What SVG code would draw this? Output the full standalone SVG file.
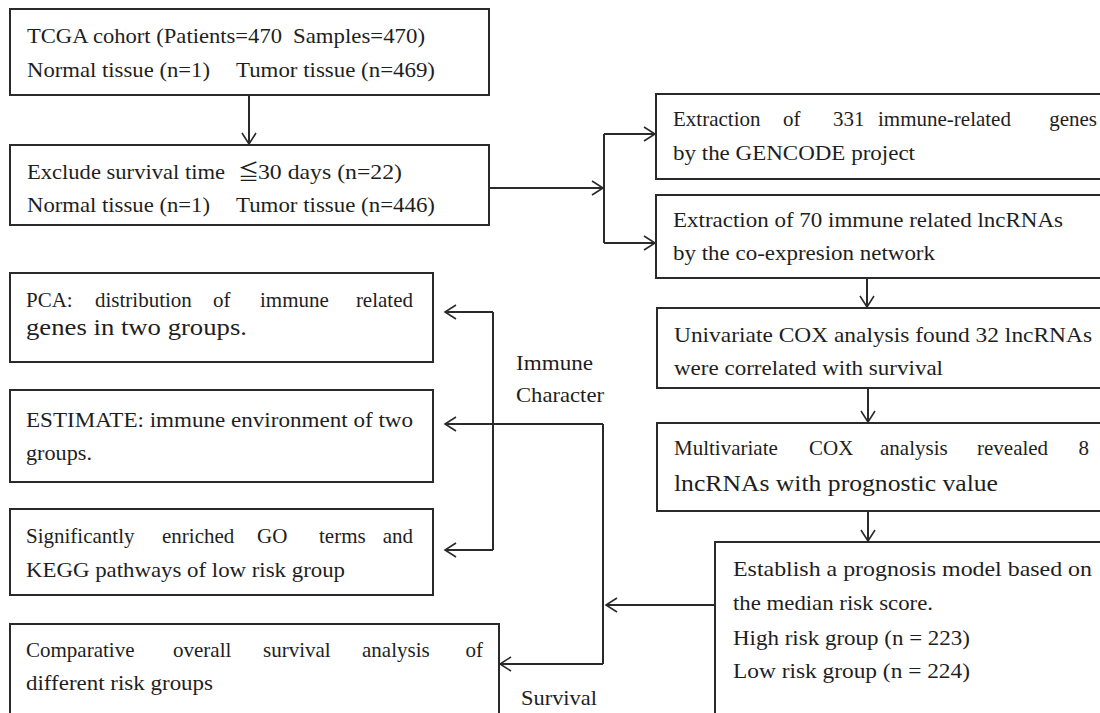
<svg xmlns="http://www.w3.org/2000/svg" width="1100" height="713" viewBox="0 0 1100 713">
<defs>
<marker id="arr" markerUnits="userSpaceOnUse" markerWidth="16" markerHeight="18" refX="12" refY="8" orient="auto">
<path d="M1,1 L12,8 L1,15" fill="none" stroke="#2a2a2a" stroke-width="1.6"/>
</marker>
<style>
.box{fill:#fff;stroke:#2a2a2a;stroke-width:2}
.t{font-family:"Liberation Serif","Times New Roman",serif;font-size:21px;fill:#1e1e1e}
.big{font-size:24px}
.e{text-anchor:end}
.cjk{font-family:"Liberation Serif","Noto Sans CJK SC",serif}
.c{fill:none;stroke:#2a2a2a;stroke-width:2}
.ca{fill:none;stroke:#2a2a2a;stroke-width:2;marker-end:url(#arr)}
</style>
</defs>
<rect width="1100" height="713" fill="#fff"/>

<g id="connectors">
<path class="ca" d="M249,95 V144"/>
<path class="ca" d="M489,188 H603"/>
<path class="c" d="M604,134 V243"/>
<path class="ca" d="M604,134 H655"/>
<path class="ca" d="M604,243 H655"/>
<path class="ca" d="M867,278 V307"/>
<path class="ca" d="M868,388 V422"/>
<path class="ca" d="M868,511 V541"/>
<path class="ca" d="M715,605 H606"/>
<path class="c" d="M493,312 V550"/>
<path class="ca" d="M493,312 H445"/>
<path class="ca" d="M493,550 H445"/>
<path class="c" d="M603,424 V664"/>
<path class="ca" d="M603,424 H445"/>
<path class="ca" d="M603,664 H500"/>
</g>

<g id="n-tcga">
<rect class="box" x="10" y="9" width="479" height="86"/>
<text class="t" y="43"><tspan x="27" textLength="255" lengthAdjust="spacingAndGlyphs">TCGA cohort (Patients=470</tspan><tspan x="293" textLength="132" lengthAdjust="spacingAndGlyphs">Samples=470)</tspan></text>
<text class="t" y="77"><tspan x="27" textLength="183" lengthAdjust="spacingAndGlyphs">Normal tissue (n=1)</tspan><tspan x="236" textLength="199" lengthAdjust="spacingAndGlyphs">Tumor tissue (n=469)</tspan></text>
</g>

<g id="n-exclude">
<rect class="box" x="10" y="145" width="479" height="80"/>
<text class="t" y="179"><tspan x="27" textLength="198" lengthAdjust="spacingAndGlyphs">Exclude survival time</tspan><tspan class="cjk" x="238">≦</tspan><tspan x="258" textLength="144" lengthAdjust="spacingAndGlyphs">30 days (n=22)</tspan></text>
<text class="t" y="212"><tspan x="27" textLength="183" lengthAdjust="spacingAndGlyphs">Normal tissue (n=1)</tspan><tspan x="236" textLength="199" lengthAdjust="spacingAndGlyphs">Tumor tissue (n=446)</tspan></text>
</g>

<g id="n-genes">
<rect class="box" x="656" y="94" width="460" height="85"/>
<text class="t" y="126"><tspan x="673">Extraction</tspan><tspan x="783">of</tspan><tspan x="833">331</tspan><tspan x="878">immune-related</tspan></text>
<text class="t e" y="126" x="1097">genes</text>
<text class="t" y="160" x="673" textLength="242" lengthAdjust="spacingAndGlyphs">by the GENCODE project</text>
</g>

<g id="n-lnc">
<rect class="box" x="656" y="195" width="460" height="83"/>
<text class="t" y="227" x="673" textLength="390" lengthAdjust="spacingAndGlyphs">Extraction of 70 immune related lncRNAs</text>
<text class="t" y="260" x="673" textLength="262" lengthAdjust="spacingAndGlyphs">by the co-expresion network</text>
</g>

<g id="n-uni">
<rect class="box" x="657" y="308" width="460" height="80"/>
<text class="t" y="342" x="674" textLength="418" lengthAdjust="spacingAndGlyphs">Univariate COX analysis found 32 lncRNAs</text>
<text class="t" y="375" x="674" textLength="269" lengthAdjust="spacingAndGlyphs">were correlated with survival</text>
</g>

<g id="n-multi">
<rect class="box" x="657" y="423" width="460" height="88"/>
<text class="t" y="455"><tspan x="674">Multivariate</tspan><tspan x="809">COX</tspan><tspan x="880">analysis</tspan><tspan x="977">revealed</tspan></text>
<text class="t e" y="455" x="1089">8</text>
<text class="t big" y="491" x="674" textLength="324" lengthAdjust="spacingAndGlyphs">lncRNAs with prognostic value</text>
</g>

<g id="n-model">
<rect class="box" x="715" y="542" width="400" height="200"/>
<text class="t" y="576" x="733" textLength="359" lengthAdjust="spacingAndGlyphs">Establish a prognosis model based on</text>
<text class="t" y="610" x="733" textLength="200" lengthAdjust="spacingAndGlyphs">the median risk score.</text>
<text class="t" y="645" x="733" textLength="237" lengthAdjust="spacingAndGlyphs">High risk group (n = 223)</text>
<text class="t" y="678" x="733" textLength="237" lengthAdjust="spacingAndGlyphs">Low risk group (n = 224)</text>
</g>

<g id="n-pca">
<rect class="box" x="10" y="273" width="423" height="89"/>
<text class="t" y="307"><tspan x="26">PCA:</tspan><tspan x="95">distribution</tspan><tspan x="213">of</tspan><tspan x="260">immune</tspan></text>
<text class="t e" y="307" x="413">related</text>
<text class="t big" y="335" x="26" textLength="221" lengthAdjust="spacingAndGlyphs">genes in two groups.</text>
</g>

<g id="n-estimate">
<rect class="box" x="10" y="390" width="423" height="92"/>
<text class="t" y="427" x="26" textLength="387" lengthAdjust="spacingAndGlyphs">ESTIMATE: immune environment of two</text>
<text class="t" y="460" x="26" textLength="66" lengthAdjust="spacingAndGlyphs">groups.</text>
</g>

<g id="n-go">
<rect class="box" x="10" y="509" width="423" height="86"/>
<text class="t" y="543"><tspan x="26">Significantly</tspan><tspan x="162">enriched</tspan><tspan x="257">GO</tspan><tspan x="319">terms</tspan></text>
<text class="t e" y="543" x="413">and</text>
<text class="t" y="577" x="26" textLength="319" lengthAdjust="spacingAndGlyphs">KEGG pathways of low risk group</text>
</g>

<g id="n-surv">
<rect class="box" x="10" y="624" width="489" height="100"/>
<text class="t" y="657"><tspan x="26">Comparative</tspan><tspan x="173">overall</tspan><tspan x="263">survival</tspan><tspan x="362">analysis</tspan></text>
<text class="t e" y="657" x="483">of</text>
<text class="t" y="690" x="26" textLength="187" lengthAdjust="spacingAndGlyphs">different risk groups</text>
</g>

<g id="labels">
<text class="t" x="516" y="370" textLength="77" lengthAdjust="spacingAndGlyphs">Immune</text>
<text class="t" x="516" y="402" textLength="88" lengthAdjust="spacingAndGlyphs">Character</text>
<text class="t" x="521" y="705" textLength="76" lengthAdjust="spacingAndGlyphs">Survival</text>
</g>
</svg>
